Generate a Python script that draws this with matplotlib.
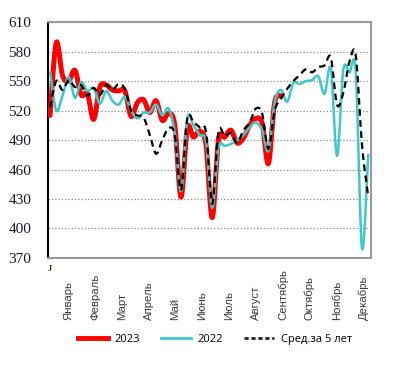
import numpy as np
import matplotlib.pyplot as plt
from matplotlib.lines import Line2D
from matplotlib.path import Path
from matplotlib.patches import PathPatch
from matplotlib import transforms

months = ["Январь", "Февраль", "Март", "Апрель", "Май", "Июнь",
          "Июль", "Август", "Сентябрь", "Октябрь", "Ноябрь", "Декабрь"]

# weekly values
y2023 = [515, 589, 556, 550, 561, 536, 537, 511, 544, 546, 541, 540, 540,
         514, 528, 531, 518, 530, 510, 517, 505, 432, 502, 493, 499, 485,
         411, 490, 493, 500, 487, 492, 505, 512, 507, 466, 528, 535]
y2022 = [560, 520, 535, 554, 533, 549, 540, 543, 527, 540, 530, 526, 534,
         520, 512, 518, 518, 526, 515, 522, 497, 438, 512, 505, 495, 488,
         421, 482, 484, 486, 490, 495, 503, 508, 500, 479, 528, 541, 529,
         548, 547, 550, 551, 555, 537, 563, 474, 561, 559, 559, 380, 476]
avg5 = [523, 550, 541, 551, 544, 546, 535, 543, 536, 546, 541, 547, 542,
        520, 515, 513, 495, 476, 490, 502, 495, 439, 512, 508, 503, 498,
        425, 498, 494, 497, 487, 500, 508, 522, 517, 481, 520, 532, 542,
        550, 556, 562, 559, 564, 566, 574, 526, 538, 570, 576, 485, 432]

yticks = [370, 400, 430, 460, 490, 520, 550, 580, 610]

red = "#ff0000"
teal = "#3ec8c8"


def smooth_line(ax, y, **kw):
    # Excel-style smoothed line: cubic bezier through every weekly point
    y = np.asarray(y, dtype=float)
    x = np.arange(1, len(y) + 1, dtype=float)
    pts = np.column_stack([x, y])
    verts = [pts[0]]
    codes = [Path.MOVETO]
    n = len(pts)
    for i in range(n - 1):
        p0 = pts[max(i - 1, 0)]
        p1 = pts[i]
        p2 = pts[i + 1]
        p3 = pts[min(i + 2, n - 1)]
        c1 = p1 + (p2 - p0) / 6
        c2 = p2 - (p3 - p1) / 6
        verts += [c1, c2, p2]
        codes += [Path.CURVE4] * 3
    patch = PathPatch(Path(verts, codes), fill=False, **kw)
    ax.add_patch(patch)


fig = plt.figure(figsize=(4.05, 3.69), dpi=100)
ax = fig.add_axes([0.1185, 0.301, 0.7975, 0.639])

smooth_line(ax, y2023, edgecolor=red, linewidth=3.6, joinstyle='round',
            capstyle='round', zorder=3)
smooth_line(ax, y2022, edgecolor=teal, linewidth=1.8, joinstyle='round', zorder=4)
smooth_line(ax, avg5, edgecolor='black', linewidth=1.6, linestyle=(0, (3, 2)), zorder=5)

ax.set_xlim(0.68, 52.44)
ax.set_ylim(370, 610)
ax.set_yticks(yticks)
ax.set_xticks([])
ax.tick_params(axis='y', length=0, pad=12, labelsize=11, labelcolor='#1a1a2a')
for lab in ax.get_yticklabels():
    lab.set_fontfamily('Liberation Serif')
ax.grid(axis='y', linestyle=':', color='#888888', linewidth=0.9)
ax.set_axisbelow(True)

ax.spines['left'].set_color('black')
ax.spines['left'].set_linewidth(1.5)
for s in ['top', 'right', 'bottom']:
    ax.spines[s].set_color('#9a9a9a')
    ax.spines[s].set_linewidth(1.5)

trans = transforms.blended_transform_factory(ax.transData, ax.transAxes)
for i, m in enumerate(months):
    ax.text(3.9 + i * 4.3, -0.263, m, rotation=90, ha='center', va='bottom',
            fontsize=8.2, color='#3a3a4a', family='Liberation Sans', transform=trans)
ax.text(1.0, -0.047, "J", ha='center', va='center', fontsize=6, fontweight='bold',
        color='#3a2a10', family='Liberation Serif', transform=trans)

handles = [Line2D([], [], color=red, linewidth=3.5),
           Line2D([], [], color=teal, linewidth=2),
           Line2D([], [], color='#222222', linewidth=2, linestyle=(0, (1.5, 1)))]
fig.legend(handles, ["2023", "2022", "Сред.за 5 лет"], loc='center',
           bbox_to_anchor=(0.531, 0.081), ncol=3, frameon=False,
           handlelength=2.7, columnspacing=1.9, handletextpad=0.6,
           prop={'family': 'Open Sans', 'size': 8})

fig.savefig("out.png", dpi=100)
